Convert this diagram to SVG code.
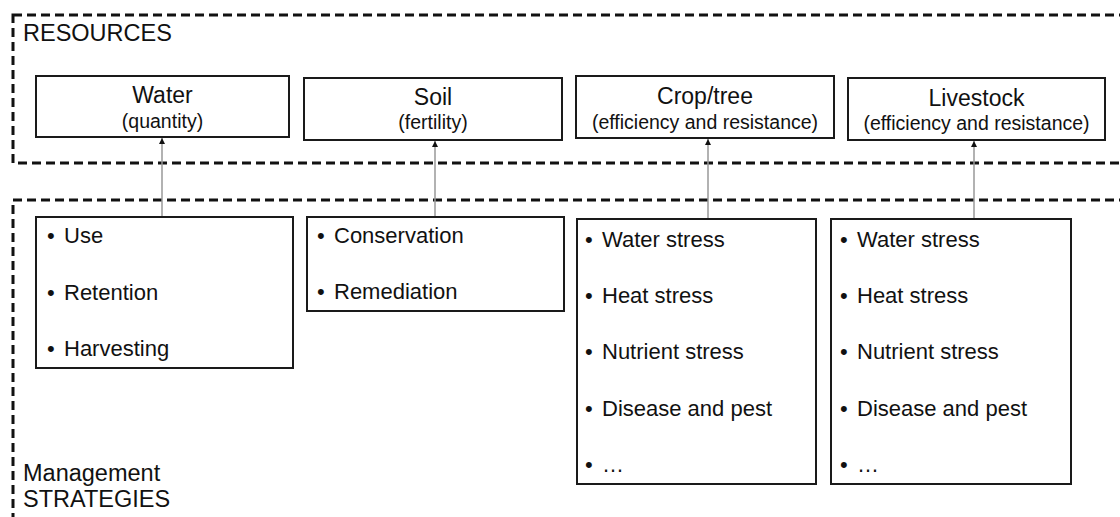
<svg xmlns="http://www.w3.org/2000/svg" width="1120" height="517" viewBox="0 0 1120 517">
<style>
.frame{fill:none;stroke:#111;stroke-width:3;stroke-dasharray:9 5}
.box{fill:#fff;stroke:#1a1a1a;stroke-width:2}
text{font-family:"Liberation Sans",Arial,sans-serif;fill:#111}
.lbl{font-size:23.5px}
.ttl{font-size:23px;text-anchor:middle}
.sub{font-size:19.5px;text-anchor:middle}
.it{font-size:22px}
.conn{stroke:#999;stroke-width:1.5;fill:none;marker-end:url(#ah)}
</style>
<defs>
<marker id="ah" viewBox="0 0 10 10" refX="10" refY="5" markerWidth="6" markerHeight="6" markerUnits="userSpaceOnUse" orient="auto">
<path d="M0,0 L10,5 L0,10 Z" fill="#111"/>
</marker>
</defs>
<rect fill="#fff" x="0" y="0" width="1120" height="517"/>
<g id="resources-frame">
<rect class="frame" x="13" y="15" width="1130" height="148"/>
<text class="lbl" x="23" y="41">RESOURCES</text>
</g>
<g id="strategies-frame">
<rect class="frame" x="13" y="200" width="1130" height="340"/>
<text class="lbl" x="23" y="481">Management</text>
<text class="lbl" x="23" y="507">STRATEGIES</text>
</g>
<g id="connectors">
<line class="conn" x1="162" y1="217" x2="162" y2="138"/>
<line class="conn" x1="435" y1="217" x2="435" y2="141"/>
<line class="conn" x1="708" y1="219" x2="708" y2="139"/>
<line class="conn" x1="974" y1="219" x2="974" y2="141"/>
</g>
<g id="water">
<rect class="box" x="36" y="76" width="253" height="61"/>
<text class="ttl" x="162.5" y="103">Water</text>
<text class="sub" x="162.5" y="128">(quantity)</text>
</g>
<g id="soil">
<rect class="box" x="304" y="78" width="258" height="62"/>
<text class="ttl" x="433" y="105">Soil</text>
<text class="sub" x="433" y="129">(fertility)</text>
</g>
<g id="crop">
<rect class="box" x="576" y="76" width="258" height="62"/>
<text class="ttl" x="705" y="104">Crop/tree</text>
<text class="sub" x="705" y="129">(efficiency and resistance)</text>
</g>
<g id="livestock">
<rect class="box" x="848" y="78" width="257" height="62"/>
<text class="ttl" x="976.5" y="106">Livestock</text>
<text class="sub" x="976.5" y="130">(efficiency and resistance)</text>
</g>
<g id="water-strategies">
<rect class="box" x="36" y="217" width="257" height="151"/>
<text class="it" y="243"><tspan x="47">•</tspan><tspan x="64">Use</tspan></text>
<text class="it" y="300"><tspan x="47">•</tspan><tspan x="64">Retention</tspan></text>
<text class="it" y="356"><tspan x="47">•</tspan><tspan x="64">Harvesting</tspan></text>
</g>
<g id="soil-strategies">
<rect class="box" x="307" y="217" width="257" height="94"/>
<text class="it" y="243"><tspan x="317">•</tspan><tspan x="334">Conservation</tspan></text>
<text class="it" y="299"><tspan x="317">•</tspan><tspan x="334">Remediation</tspan></text>
</g>
<g id="crop-strategies">
<rect class="box" x="577" y="219" width="239" height="265"/>
<text class="it" y="247"><tspan x="585">•</tspan><tspan x="602">Water stress</tspan></text>
<text class="it" y="303"><tspan x="585">•</tspan><tspan x="602">Heat stress</tspan></text>
<text class="it" y="359"><tspan x="585">•</tspan><tspan x="602">Nutrient stress</tspan></text>
<text class="it" y="416"><tspan x="585">•</tspan><tspan x="602">Disease and pest</tspan></text>
<text class="it" y="472"><tspan x="585">•</tspan><tspan x="602">…</tspan></text>
</g>
<g id="livestock-strategies">
<rect class="box" x="831" y="219" width="240" height="265"/>
<text class="it" y="247"><tspan x="840">•</tspan><tspan x="857">Water stress</tspan></text>
<text class="it" y="303"><tspan x="840">•</tspan><tspan x="857">Heat stress</tspan></text>
<text class="it" y="359"><tspan x="840">•</tspan><tspan x="857">Nutrient stress</tspan></text>
<text class="it" y="416"><tspan x="840">•</tspan><tspan x="857">Disease and pest</tspan></text>
<text class="it" y="472"><tspan x="840">•</tspan><tspan x="857">…</tspan></text>
</g>
</svg>
